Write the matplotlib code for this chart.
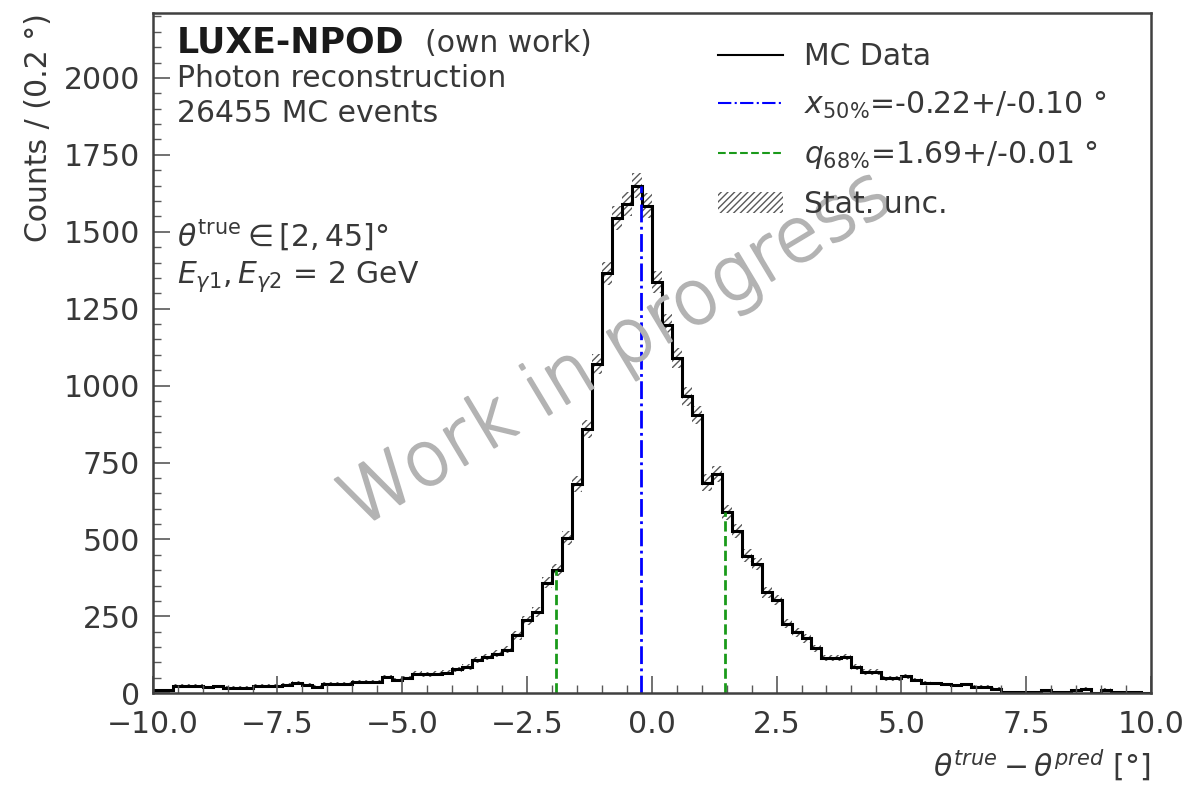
import numpy as np
import matplotlib
matplotlib.use("Agg")
from matplotlib import pyplot as plt
from matplotlib.patches import Patch
from matplotlib.lines import Line2D
from matplotlib.ticker import MultipleLocator
import matplotlib.patheffects as pe

# histogram of theta_true - theta_pred, 100 bins of 0.2 deg
bin_edges = np.round(np.arange(-10.0, 10.0001, 0.2), 2)
counts = [
    # -10.0 .. -5.2
    10, 10, 24, 24, 24, 19, 23, 18, 18, 18,
    24, 24, 24, 28, 33, 28, 21, 31, 31, 31,
    36, 36, 36, 53, 44,
    # -5.0 .. -0.2
    50, 64, 62, 64, 66, 78, 86, 108, 118, 129,
    142, 188, 237, 263, 360, 400, 505, 680, 860, 1070,
    1365, 1545, 1590, 1650, 1585,
    # 0.0 .. 4.8
    1336, 1198, 1090, 965, 905, 685, 712, 588, 527, 447,
    420, 328, 303, 226, 198, 178, 146, 114, 114, 118,
    86, 69, 69, 48, 48,
    # 5.0 .. 9.8
    55, 42, 34, 32, 29, 26, 29, 21, 21, 15,
    3, 3, 3, 4, 10, 3, 3, 10, 15, 2,
    12, 5, 5, 5, 2,
]
counts = np.array(counts, dtype=float)

median = -0.22
median_err = 0.10
q68 = 1.69
q68_err = 0.01
n_events = 26455

textc = "0.22"
fs = 21.5

fig = plt.figure(figsize=(11.84, 7.86), dpi=100)
ax = fig.add_axes([0.129, 0.118, 0.843, 0.865])

# stat. uncertainty band
err = np.sqrt(counts)
lo = np.append(counts - err, (counts - err)[-1])
hi = np.append(counts + err, (counts + err)[-1])
plt.rcParams['hatch.linewidth'] = 1.0
ax.fill_between(bin_edges, lo, hi, step="post", facecolor="none",
                edgecolor="0.35", hatch="/////", linewidth=0)

ax.stairs(counts, bin_edges, color="black", linewidth=2.2)


def height_at(x):
    i = np.searchsorted(bin_edges, x) - 1
    return counts[i]


ax.vlines(median, 0, height_at(median), color="blue", linestyle="-.", linewidth=2)
for xq in (median - q68, median + q68):
    ax.vlines(xq, 0, height_at(xq), color="#1a9a1a", linestyle="--", linewidth=2)

ax.set_xlim(-10, 10)
ax.set_ylim(0, 2210)
ax.xaxis.set_major_locator(MultipleLocator(2.5))
ax.xaxis.set_minor_locator(MultipleLocator(0.5))
ax.yaxis.set_major_locator(MultipleLocator(250))
ax.yaxis.set_minor_locator(MultipleLocator(50))
ax.tick_params(which="both", direction="in", top=False, right=False,
               labelsize=fs, labelcolor=textc, colors="0.35")
ax.tick_params(which="major", length=12, width=1.2, pad=9)
ax.tick_params(axis="x", which="major", pad=12)
ax.tick_params(which="minor", length=6, width=1)
ax.xaxis.set_major_formatter(matplotlib.ticker.FuncFormatter(
    lambda v, p: "%.1f" % v if v >= 0 else "\u2212%.1f" % abs(v)))
for s in ax.spines.values():
    s.set_linewidth(1.8)
    s.set_color("0.25")

ax.set_ylabel("Counts / (0.2 °)", fontsize=fs, color=textc, loc="top", labelpad=8)
ax.set_xlabel(r"$\theta^{true} - \theta^{pred}$ [°]", fontsize=fs, color=textc,
              loc="right", labelpad=6)

# labels top left
ax.text(0.024, 0.943, "LUXE-NPOD", transform=ax.transAxes, fontsize=25,
        fontweight="bold", color="0.1", va="baseline")
ax.text(0.2725, 0.943, "(own work)", transform=ax.transAxes, fontsize=fs,
        color=textc, va="baseline")
ax.text(0.024, 0.891, "Photon reconstruction", transform=ax.transAxes,
        fontsize=fs, color=textc, va="baseline")
ax.text(0.024, 0.840, "%d MC events" % n_events, transform=ax.transAxes,
        fontsize=fs, color=textc, va="baseline")
ax.text(0.024, 0.659, r"$\theta^{\rm true} \in [2, 45]°$", transform=ax.transAxes,
        fontsize=fs, color=textc, va="baseline")
ax.text(0.024, 0.603, r"$E_{\gamma 1}, E_{\gamma 2}$ = 2 GeV", transform=ax.transAxes,
        fontsize=fs, color=textc, va="baseline")

# watermark
wm = ax.text(0.465, 0.505, "Work in progress", transform=ax.transAxes, fontsize=54,
             color="0.7", fontweight="light", rotation=31, ha="center", va="center")
wm.set_path_effects([pe.withStroke(linewidth=1.6, foreground="0.7")])

handles = [
    Line2D([], [], color="black", linewidth=1.5),
    Line2D([], [], color="blue", linestyle="-.", linewidth=1.5),
    Line2D([], [], color="#1a9a1a", linestyle="--", linewidth=1.5),
    Patch(facecolor="none", edgecolor="0.35", hatch="/////", linewidth=0),
]
labels = [
    "MC Data",
    r"$x_{50\%}$" + "=%.2f+/-%.2f °" % (median, median_err),
    r"$q_{68\%}$" + "=%.2f+/-%.2f °" % (q68, q68_err),
    "Stat. unc.",
]
leg = ax.legend(handles, labels, loc="upper left", frameon=False, fontsize=fs,
                bbox_to_anchor=(0.539, 0.997), handlelength=2.2,
                handletextpad=0.7, labelspacing=0.62)
for t in leg.get_texts():
    t.set_color(textc)

fig.savefig("out.png", dpi=100)
